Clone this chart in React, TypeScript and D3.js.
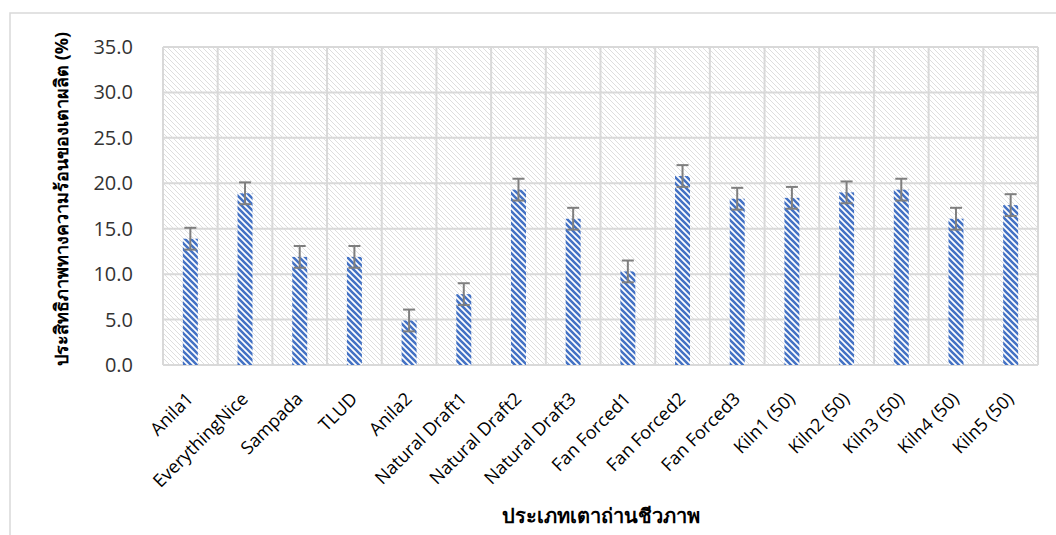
import React from "react";
import * as d3 from "d3";

const categories = [
  "Anila1", "EverythingNice", "Sampada", "TLUD", "Anila2",
  "Natural Draft1", "Natural Draft2", "Natural Draft3",
  "Fan Forced1", "Fan Forced2", "Fan Forced3",
  "Kiln1 (50)", "Kiln2 (50)", "Kiln3 (50)", "Kiln4 (50)", "Kiln5 (50)",
];
const values = [13.9, 18.9, 11.9, 11.9, 4.9, 7.8, 19.3, 16.1, 10.3, 20.8, 18.3, 18.4, 19.0, 19.3, 16.1, 17.6];
const errors = [1.2, 1.2, 1.2, 1.2, 1.2, 1.2, 1.2, 1.2, 1.2, 1.2, 1.2, 1.2, 1.2, 1.2, 1.2, 1.2];
const yTicks = [0, 5, 10, 15, 20, 25, 30, 35];
const yTitle = "ประสิทธิภาพทางความร้อนของเตาผลิต (%)";
const xTitle = "ประเภทเตาถ่านชีวภาพ";

const W = 1056, H = 535;
const M = { left: 163, right: 1038, top: 47, bottom: 365 };
const FONT = "'Open Sans', 'Noto Sans', sans-serif";

export default function App() {
  const x = d3.scaleBand<string>().domain(categories).range([M.left, M.right]).paddingInner(0).paddingOuter(0);
  const y = d3.scaleLinear().domain([0, 35]).range([M.bottom, M.top]);
  const barW = 15;
  const grid = "#d9d9d9";

  return (
    <svg width={W} height={H} style={{ position: "absolute", left: 0, top: 0, background: "#fff" }} fontFamily={FONT}>
      <defs>
        <pattern id="bg" patternUnits="userSpaceOnUse" width="5" height="5">
          <rect width="5" height="5" fill="#fff" />
          <path d="M0,0 L5,5 M-1,4 L1,6 M4,-1 L6,1" stroke="#dedede" strokeWidth="1" />
        </pattern>
        <pattern id="bar" patternUnits="userSpaceOnUse" width="6" height="6">
          <rect width="6" height="6" fill="#fff" />
          <path d="M0,0 L6,6 M-3,3 L3,9 M3,-3 L9,3" stroke="#4472c4" strokeWidth="2.6" />
        </pattern>
      </defs>
      <rect x={10} y={13} width={1060} height={540} fill="#fff" stroke="#d9d9d9" strokeWidth={1.5} />
      <rect x={M.left} y={M.top} width={M.right - M.left} height={M.bottom - M.top} fill="url(#bg)" />
      {yTicks.map((t) => (
        <line key={"h" + t} x1={M.left} x2={M.right} y1={y(t)} y2={y(t)} stroke={grid} strokeWidth={2} />
      ))}
      {categories.map((c) => (
        <line key={"v" + c} x1={x(c)!} x2={x(c)!} y1={M.top} y2={M.bottom} stroke={grid} strokeWidth={2} />
      ))}
      <line x1={M.right} x2={M.right} y1={M.top} y2={M.bottom} stroke={grid} strokeWidth={2} />
      {categories.map((c, i) => {
        const cx = x(c)! + x.bandwidth() / 2;
        return (
          <rect key={"b" + c} x={cx - barW / 2} y={y(values[i])} width={barW} height={y(0) - y(values[i])} fill="url(#bar)" />
        );
      })}
      {categories.map((c, i) => {
        const cx = x(c)! + x.bandwidth() / 2;
        const hi = y(values[i] + errors[i]);
        const lo = y(values[i] - errors[i]);
        return (
          <g key={"e" + c} stroke="#7f7f7f" strokeWidth={2}>
            <line x1={cx} x2={cx} y1={hi} y2={lo} />
            <line x1={cx - 6} x2={cx + 6} y1={hi} y2={hi} />
            <line x1={cx - 6} x2={cx + 6} y1={lo} y2={lo} />
          </g>
        );
      })}
      {yTicks.map((t) => (
        <text key={"yt" + t} x={133} y={y(t)} dy="0.35em" textAnchor="end" fontSize={20} fill="#333">
          {d3.format(".1f")(t)}
        </text>
      ))}
      {categories.map((c) => {
        const cx = x(c)! + x.bandwidth() / 2;
        return (
          <text key={"xl" + c} transform={`translate(${cx + 4},${M.bottom + 35}) rotate(-45)`} textAnchor="end" fontSize={18} fill="#000">
            {c}
          </text>
        );
      })}
      <text transform={`translate(62,${(M.top + M.bottom) / 2 - 7}) rotate(-90)`} textAnchor="middle" dy="0.35em" fontSize={18} fontWeight="bold" fill="#000">
        {yTitle}
      </text>
      <text x={(M.left + M.right) / 2} y={523} textAnchor="middle" fontSize={20} fontWeight="bold" fill="#000">
        {xTitle}
      </text>
    </svg>
  );
}
